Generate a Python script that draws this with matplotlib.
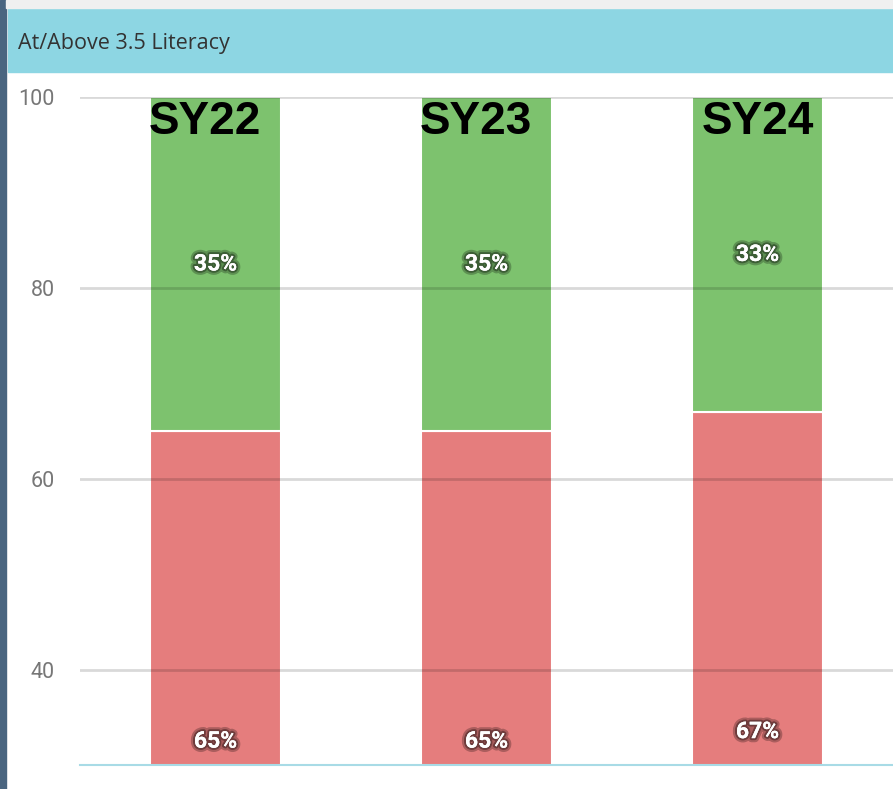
import matplotlib.pyplot as plt
import matplotlib.patheffects as pe
from matplotlib.patches import Rectangle
import numpy as np

# data
years = ['SY22', 'SY23', 'SY24']
below = [65, 65, 67]   # red part
above = [35, 35, 33]   # green part
yticks = [40, 60, 80, 100]

green = '#7dc26e'
red = '#e57d7d'

fig = plt.figure(figsize=(8.93, 7.89), dpi=100)

# frame pieces: header band, left border, top strip
fig.patches.append(Rectangle((8/893, 1 - 72/789), 1, 64/789, transform=fig.transFigure,
                             color='#8dd6e3', zorder=0))
fig.patches.append(Rectangle((0, 0), 6/893, 1, transform=fig.transFigure,
                             color='#4a6580', zorder=0))
fig.patches.append(Rectangle((6/893, 1 - 8/789), 1, 8/789, transform=fig.transFigure,
                             color='#f0f0f0', zorder=0))
fig.text(18/893, 1 - 43/789, 'At/Above 3.5 Literacy', fontsize=15.5, color='#333333',
         va='center', ha='left', family='Open Sans')

ax = fig.add_axes([80/893, 24/789, 813/893, (765 - 97)/789])
x = np.arange(len(years))
w = 0.48

ax.bar(x, below, width=w, color=red, edgecolor='white', linewidth=1.5, zorder=2)
ax.bar(x, above, width=w, bottom=below, color=green, edgecolor='white', linewidth=1.5, zorder=2)

ax.set_ylim(30, 100)
ax.set_xlim(-0.5, 2.5)
ax.set_yticks(yticks)
ax.set_xticks([])
ax.yaxis.grid(True, color='black', alpha=0.15, linewidth=2, zorder=3)
ax.set_axisbelow(False)
ax.tick_params(axis='y', length=0, pad=18, labelsize=15.5, labelcolor='#777777')
for lab in ax.get_yticklabels():
    lab.set_family('Roboto')
for s in ['top', 'left', 'right']:
    ax.spines[s].set_visible(False)
ax.spines['bottom'].set_color('#a8dbe6')
ax.spines['bottom'].set_linewidth(1.5)

shadow = [pe.withStroke(linewidth=6, foreground='black', alpha=0.25),
          pe.withStroke(linewidth=3, foreground='black', alpha=0.35), pe.Normal()]
for i in range(len(years)):
    ax.text(x[i], below[i] / 2, f'{below[i]}%', ha='center', va='center', color='white',
            fontsize=16.5, fontweight='bold', family='Roboto',
            path_effects=shadow, zorder=5)
    ax.text(x[i], below[i] + above[i] / 2, f'{above[i]}%', ha='center', va='center',
            color='white', fontsize=16.5, fontweight='bold',
            family='Roboto', path_effects=shadow, zorder=5)

# big year labels over the top of the bars
label_dx = [-0.04, -0.04, 0.0]
for i, yr in enumerate(years):
    ax.text(x[i] + label_dx[i], 97.4, yr, ha='center', va='center', fontsize=33,
            fontweight='bold', color='black', family='Liberation Sans', zorder=6)

fig.savefig('out.png', dpi=100)
